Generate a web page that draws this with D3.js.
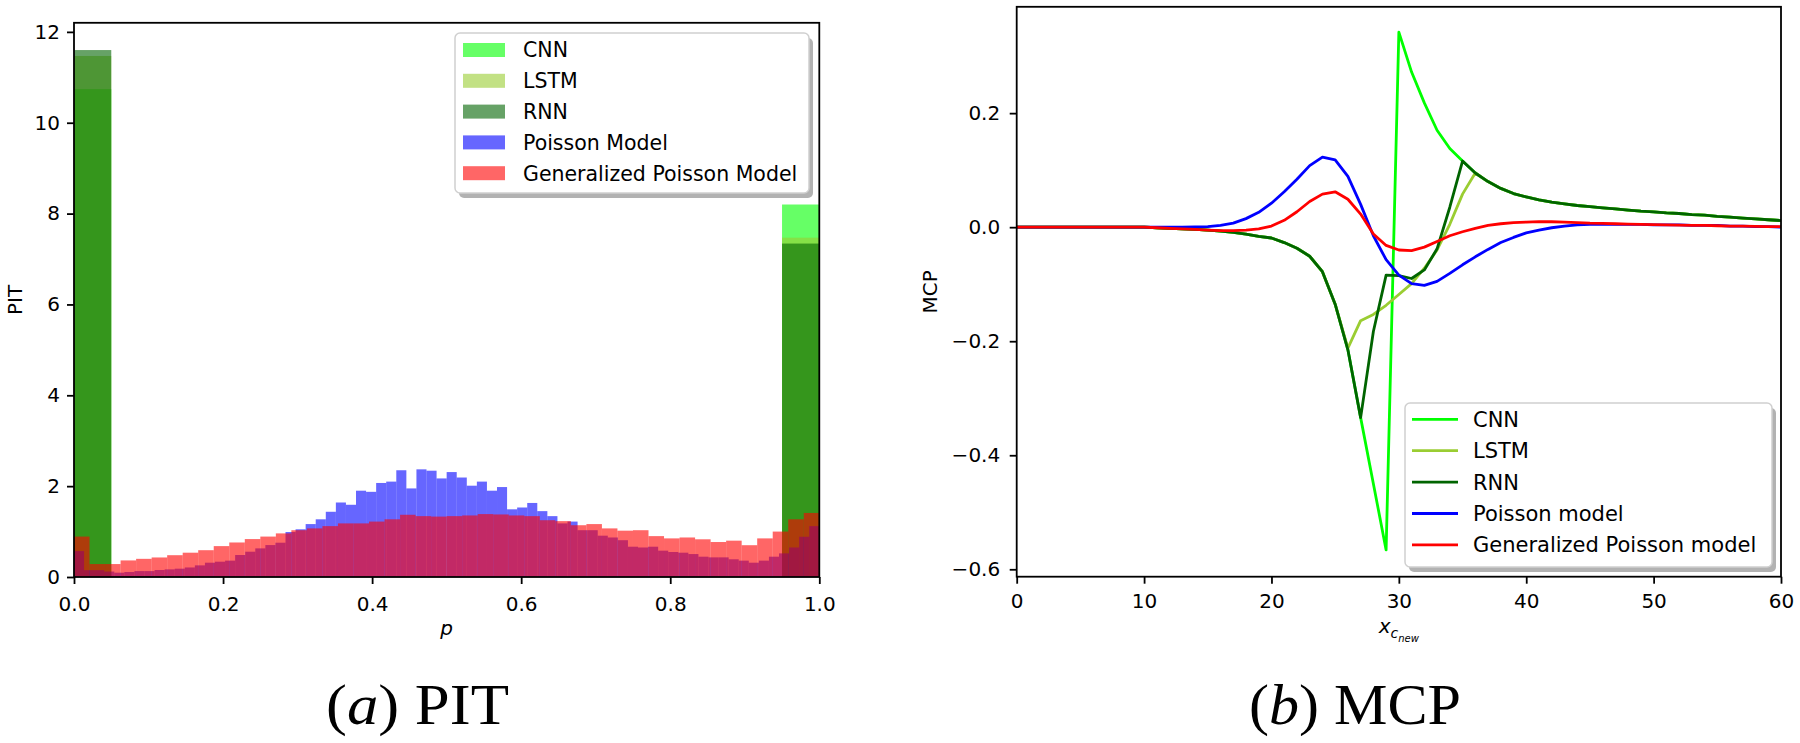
<!DOCTYPE html>
<html><head><meta charset="utf-8">
<script src="https://cdn.jsdelivr.net/npm/d3@7"></script>
<style>
body{margin:0;background:#fff;}
svg{display:block;}
</style>
</head><body>
<svg id="chart" width="1800" height="743" font-family="DejaVu Sans, sans-serif"></svg>
<script>
// ---------------- DATA ----------------
// (a) PIT histograms (density per bin, bins span [0,1])
const pitSeriesNames = ["CNN", "LSTM", "RNN", "Poisson Model", "Generalized Poisson Model"];
const cnnPIT  = [10.74,0,0,0,0,0,0,0,0,0,0,0,0,0,0,0,0,0,0,8.2];
const lstmPIT = [11.47,0,0,0,0,0,0,0,0,0,0,0,0,0,0,0,0,0,0,7.47];
const rnnPIT  = [11.6,0,0,0,0,0,0,0,0,0,0,0,0,0,0,0,0,0,0,7.34];
const poissonPIT = [0.57,0.15,0.15,0.12,0.095,0.11,0.13,0.13,0.154,0.168,
  0.183,0.21,0.256,0.315,0.337,0.36,0.484,0.557,0.63,0.703,
  0.755,0.99,1.05,1.165,1.27,1.436,1.64,1.59,1.90,1.875,
  2.07,2.10,2.35,1.95,2.37,2.34,2.17,2.31,2.19,2.01,
  2.10,1.90,1.98,1.49,1.53,1.63,1.45,1.34,1.18,1.22,
  1.03,1.03,0.91,0.87,0.81,0.667,0.65,0.667,0.58,0.55,
  0.535,0.505,0.447,0.432,0.432,0.39,0.36,0.315,0.36,0.447,
  0.52,0.65,0.886,1.12];
const gpPIT = [0.89,0.285,0.285,0.365,0.40,0.43,0.48,0.535,0.59,0.68,
  0.76,0.835,0.89,0.96,1.03,1.07,1.12,1.18,1.18,1.22,
  1.27,1.37,1.34,1.33,1.34,1.355,1.385,1.377,1.355,1.34,
  1.25,1.23,1.14,1.165,1.07,1.02,1.03,0.90,0.85,0.87,
  0.83,0.77,0.80,0.70,0.85,1.0,1.27,1.41];
const pitXTicks = [0, 0.2, 0.4, 0.6, 0.8, 1.0];
const pitYTicks = [0, 2, 4, 6, 8, 10, 12];

// (b) MCP curves, x = 0..60
const mcpSeriesNames = ["CNN", "LSTM", "RNN", "Poisson model", "Generalized Poisson model"];
const mcpX = d3.range(0, 61);
const cnnMCP = [0,0,0,0,0,0,0,0,0,0,
  0,-0.001,-0.002,-0.003,-0.004,-0.005,-0.007,-0.009,-0.012,-0.016,
  -0.019,-0.027,-0.037,-0.051,-0.078,-0.135,-0.215,-0.334,-0.45,-0.566,
  0.342,0.272,0.218,0.170,0.138,0.116,0.095,0.080,0.068,0.059,
  0.053,0.048,0.044,0.041,0.038,0.036,0.034,0.032,0.030,0.028,
  0.027,0.025,0.024,0.022,0.021,0.019,0.0175,0.016,0.0145,0.013,0.0116];
const lstmMCP = [0,0,0,0,0,0,0,0,0,0,
  0,-0.001,-0.002,-0.003,-0.004,-0.005,-0.007,-0.009,-0.012,-0.016,
  -0.019,-0.027,-0.037,-0.051,-0.078,-0.135,-0.212,-0.164,-0.153,-0.137,
  -0.118,-0.099,-0.072,-0.040,0.005,0.058,0.095,0.080,0.068,0.059,
  0.053,0.048,0.044,0.041,0.038,0.036,0.034,0.032,0.030,0.028,
  0.027,0.025,0.024,0.022,0.021,0.019,0.0175,0.016,0.0145,0.013,0.0116];
const rnnMCP = [0,0,0,0,0,0,0,0,0,0,
  0,-0.001,-0.002,-0.003,-0.004,-0.005,-0.007,-0.009,-0.012,-0.016,
  -0.019,-0.027,-0.037,-0.051,-0.078,-0.135,-0.215,-0.334,-0.183,-0.084,
  -0.085,-0.090,-0.075,-0.038,0.035,0.116,0.095,0.080,0.068,0.059,
  0.053,0.048,0.044,0.041,0.038,0.036,0.034,0.032,0.030,0.028,
  0.027,0.025,0.024,0.022,0.021,0.019,0.0175,0.016,0.0145,0.013,0.0116];
const poissonMCP = [0,0,0,0,0,0,0,0,0,0,
  0,0,0,0,0.0005,0.001,0.003,0.007,0.015,0.026,
  0.042,0.062,0.084,0.108,0.123,0.118,0.089,0.040,-0.015,-0.057,
  -0.084,-0.099,-0.102,-0.095,-0.081,-0.066,-0.052,-0.039,-0.027,-0.018,
  -0.010,-0.005,-0.001,0.002,0.004,0.005,0.005,0.005,0.005,0.005,
  0.004,0.004,0.004,0.003,0.003,0.003,0.002,0.002,0.001,0.001,0.0];
const gpMCP = [0,0,0,0,0,0,0,0,0,0,
  0,-0.001,-0.002,-0.003,-0.004,-0.005,-0.006,-0.006,-0.005,-0.003,
  0.002,0.012,0.027,0.045,0.058,0.062,0.049,0.023,-0.012,-0.032,
  -0.040,-0.041,-0.035,-0.025,-0.015,-0.008,-0.002,0.003,0.006,0.008,
  0.009,0.0098,0.0095,0.009,0.008,0.007,0.0065,0.006,0.0055,0.005,
  0.0045,0.004,0.0035,0.003,0.003,0.0025,0.002,0.002,0.0015,0.001,0.001];
const mcpXTicks = [0, 10, 20, 30, 40, 50, 60];
const mcpYTicks = [-0.6, -0.4, -0.2, 0.0, 0.2];

const seriesColors = ["#00ff00", "#9acd32", "#006400", "#0000ff", "#ff0000"];

// ---------------- LAYOUT ----------------
const svg = d3.select("#chart");
const FONT = 20;
const SANS = '"DejaVu Sans", sans-serif';

function styleAxis(g, fs) {
  g.select(".domain").remove();
  g.selectAll(".tick line").attr("stroke", "#000").attr("stroke-width", 1.8);
  g.attr("font-family", SANS).attr("font-size", fs);
  g.selectAll(".tick text").attr("fill", "#000");
}

// ===== (a) PIT =====
const A = {left: 74, right: 819.3, top: 22.8, bottom: 577};
const xA = d3.scaleLinear().domain([0, 1]).range([A.left, A.right]);
const yA = d3.scaleLinear().domain([0, 12.2]).range([A.bottom, A.top]);

const gA = svg.append("g");
const pitSeries = [cnnPIT, lstmPIT, rnnPIT, poissonPIT, gpPIT];
pitSeries.forEach((vals, si) => {
  const n = vals.length;
  gA.append("g").selectAll("rect")
    .data(vals.map((v, i) => ({v, i})).filter(d => d.v > 0))
    .join("rect")
    .attr("x", d => xA(d.i / n))
    .attr("width", d => xA((d.i + 1) / n) - xA(d.i / n))
    .attr("y", d => yA(d.v))
    .attr("height", d => yA(0) - yA(d.v))
    .attr("fill", seriesColors[si])
    .attr("fill-opacity", 0.6);
});

const axAx = gA.append("g").attr("transform", `translate(0,${A.bottom})`)
  .call(d3.axisBottom(xA).tickValues(pitXTicks).tickFormat(d3.format(".1f")).tickSize(7).tickPadding(13));
styleAxis(axAx, FONT);
const axAy = gA.append("g").attr("transform", `translate(${A.left},0)`)
  .call(d3.axisLeft(yA).tickValues(pitYTicks).tickFormat(d3.format("d")).tickSize(7).tickPadding(7));
styleAxis(axAy, FONT);

gA.append("rect").attr("x", A.left).attr("y", A.top).attr("width", A.right - A.left).attr("height", A.bottom - A.top)
  .attr("fill", "none").attr("stroke", "#000").attr("stroke-width", 1.8);

gA.append("text").attr("transform", `translate(22,${(A.top + A.bottom) / 2}) rotate(-90)`)
  .attr("text-anchor", "middle").attr("font-size", FONT).text("PIT");
gA.append("text").attr("x", (A.left + A.right) / 2).attr("y", 635)
  .attr("text-anchor", "middle").attr("font-size", FONT).attr("font-style", "italic").text("p");

// legend (a)
(function () {
  const L = {x: 455, y: 33, w: 354, h: 160};
  const lg = gA.append("g");
  lg.append("rect").attr("x", L.x + 4).attr("y", L.y + 5).attr("width", L.w).attr("height", L.h)
    .attr("rx", 5).attr("fill", "#000").attr("fill-opacity", 0.3);
  lg.append("rect").attr("x", L.x).attr("y", L.y).attr("width", L.w).attr("height", L.h)
    .attr("rx", 5).attr("fill", "#fff").attr("stroke", "#d0d0d0").attr("stroke-width", 1.5);
  pitSeriesNames.forEach((name, i) => {
    const cy = 50 + i * 30.8;
    lg.append("rect").attr("x", 463).attr("y", cy - 7).attr("width", 42).attr("height", 14)
      .attr("fill", seriesColors[i]).attr("fill-opacity", 0.6);
    lg.append("text").attr("x", 523).attr("y", cy).attr("dy", "0.36em").attr("font-size", 20.5).text(name);
  });
})();

// ===== (b) MCP =====
const B = {left: 1016.7, right: 1781, top: 6.8, bottom: 576.7};
const xB = d3.scaleLinear().domain([0, 60]).range([B.left, B.right]);
const yB = d3.scaleLinear().domain([-0.613, 0.3865]).range([B.bottom, B.top]);
const gB = svg.append("g");

const axBx = gB.append("g").attr("transform", `translate(0,${B.bottom})`)
  .call(d3.axisBottom(xB).tickValues(mcpXTicks).tickFormat(d3.format("d")).tickSize(7).tickPadding(10));
styleAxis(axBx, FONT);
const axBy = gB.append("g").attr("transform", `translate(${B.left},0)`)
  .call(d3.axisLeft(yB).tickValues(mcpYTicks).tickFormat(d3.format(".1f")).tickSize(7).tickPadding(9.5));
styleAxis(axBy, FONT);

const mcpSeries = [cnnMCP, lstmMCP, rnnMCP, poissonMCP, gpMCP];
const line = d3.line().x((d, i) => xB(mcpX[i])).y(d => yB(d));
mcpSeries.forEach((vals, si) => {
  gB.append("path").datum(vals).attr("d", line)
    .attr("fill", "none").attr("stroke", seriesColors[si]).attr("stroke-width", 2.8)
    .attr("stroke-linejoin", "round");
});

gB.append("rect").attr("x", B.left).attr("y", B.top).attr("width", B.right - B.left).attr("height", B.bottom - B.top)
  .attr("fill", "none").attr("stroke", "#000").attr("stroke-width", 1.8);

gB.append("text").attr("transform", `translate(937,${(B.top + B.bottom) / 2}) rotate(-90)`)
  .attr("text-anchor", "middle").attr("font-size", FONT).text("MCP");
const xl = gB.append("text").attr("x", (B.left + B.right) / 2).attr("y", 633)
  .attr("text-anchor", "middle").attr("font-style", "italic");
xl.append("tspan").attr("font-size", 20).text("x");
xl.append("tspan").attr("font-size", 14).attr("dy", 5).text("c");
xl.append("tspan").attr("font-size", 10).attr("dy", 4).text("new");

// legend (b)
(function () {
  const L = {x: 1405, y: 403, w: 367, h: 164};
  const lg = gB.append("g");
  lg.append("rect").attr("x", L.x + 4).attr("y", L.y + 5).attr("width", L.w).attr("height", L.h)
    .attr("rx", 5).attr("fill", "#000").attr("fill-opacity", 0.3);
  lg.append("rect").attr("x", L.x).attr("y", L.y).attr("width", L.w).attr("height", L.h)
    .attr("rx", 5).attr("fill", "#fff").attr("stroke", "#d0d0d0").attr("stroke-width", 1.5);
  mcpSeriesNames.forEach((name, i) => {
    const cy = 419.3 + i * 31.4;
    lg.append("line").attr("x1", 1412).attr("x2", 1458).attr("y1", cy).attr("y2", cy)
      .attr("stroke", seriesColors[i]).attr("stroke-width", 2.8);
    lg.append("text").attr("x", 1473).attr("y", cy).attr("dy", "0.36em").attr("font-size", 21).text(name);
  });
})();

// ===== captions =====
function caption(x0, targetW, letter, word) {
  const t = svg.append("text").attr("font-family", '"Liberation Serif", "Times New Roman", serif')
    .attr("font-size", 56);
  t.append("tspan").text("(");
  t.append("tspan").attr("font-style", "italic").text(letter);
  t.append("tspan").text(") " + word);
  const w = t.node().getBBox().width;
  t.attr("transform", `translate(${x0},724) scale(${targetW / w},1)`);
}
caption(326, 183, "a", "PIT");
caption(1249, 212, "b", "MCP");
</script>
</body></html>
